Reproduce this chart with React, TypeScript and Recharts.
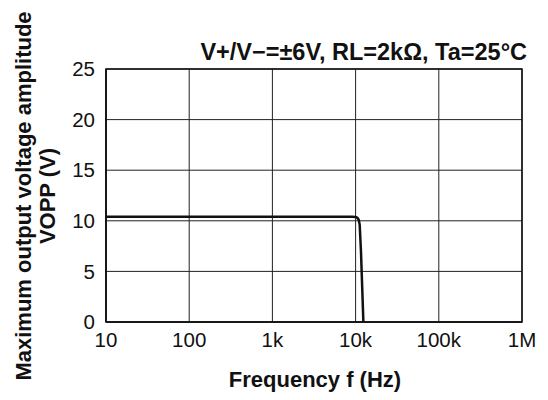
import { CartesianGrid, Customized, Line, LineChart, ReferenceArea, XAxis, YAxis } from 'recharts'

// output swing vs frequency
const freqHz = [10, 100, 1000, 9000, 10000, 10500, 10900, 11200, 11600, 12400]
const voppV = [10.4, 10.4, 10.4, 10.4, 10.38, 10.3, 10.1, 9.6, 7.0, 0]

const xTicks = [10, 100, 1000, 10000, 100000, 1000000]
const xTickLabels = ['10', '100', '1k', '10k', '100k', '1M']
const yTicks = [0, 5, 10, 15, 20, 25]

const titleText = 'V+/V\u2212=\u00b16V, RL=2k\u03a9, Ta=25\u00b0C'
const yLabelLines = ['Maximum output voltage amplitude', 'VOPP (V)']
const xLabelText = 'Frequency f (Hz)'

const data = freqHz.map((f, i) => ({ f, v: voppV[i] }))

const font = '"Liberation Sans", Arial, Helvetica, sans-serif'

function Overlay() {
  return (
    <g fontFamily={font} fontWeight="bold" fontSize={22} fill="#111">
      <text x={527} y={60} textAnchor="end" fontSize={23.5}>
        {titleText}
      </text>
      <text x={315} y={387} textAnchor="middle">
        {xLabelText}
      </text>
      <text x={31} y={196} textAnchor="middle" transform="rotate(-90, 31, 196)">
        {yLabelLines[0]}
      </text>
      <text x={55} y={196} textAnchor="middle" transform="rotate(-90, 55, 196)">
        {yLabelLines[1]}
      </text>
    </g>
  )
}

export default function App() {
  return (
    <div style={{ position: 'absolute', left: 0, top: 0, width: 548, height: 400, background: '#fff' }}>
      <LineChart width={548} height={400} data={data} margin={{ top: 69, right: 26, left: 0, bottom: 0 }}>
        <CartesianGrid stroke="#222" strokeWidth={1} />
        <XAxis
          dataKey="f"
          type="number"
          scale="log"
          domain={[10, 1000000]}
          ticks={xTicks}
          tickFormatter={(v: number) => xTickLabels[xTicks.indexOf(v)] ?? ''}
          height={78}
          tickLine={false}
          tickSize={0}
          tickMargin={10}
          axisLine={{ stroke: '#111', strokeWidth: 1.5 }}
          tick={{ fill: '#111', fontSize: 20.5, fontFamily: font }}
          allowDataOverflow
          interval={0}
        />
        <YAxis
          type="number"
          domain={[0, 25]}
          ticks={yTicks}
          width={106}
          tickLine={false}
          tickSize={0}
          tickMargin={11}
          axisLine={{ stroke: '#111', strokeWidth: 1.5 }}
          tick={{ fill: '#111', fontSize: 20.5, fontFamily: font }}
          interval={0}
        />
        <ReferenceArea x1={10} x2={1000000} y1={0} y2={25} fill="none" stroke="#111" strokeWidth={1.5} />
        <Line
          dataKey="v"
          type="linear"
          stroke="#111"
          strokeWidth={2.5}
          dot={false}
          isAnimationActive={false}
        />
        <Customized component={Overlay} />
      </LineChart>
    </div>
  )
}
